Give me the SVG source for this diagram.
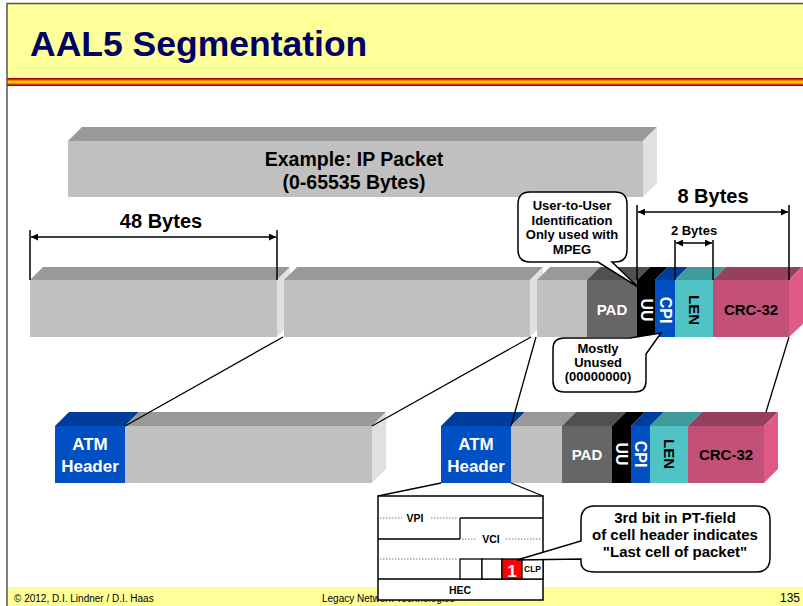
<svg xmlns="http://www.w3.org/2000/svg" width="803" height="606" viewBox="0 0 803 606">
<defs>
<style>
text{font-family:"Liberation Sans",Arial,sans-serif;font-weight:bold}
.c{text-anchor:middle}
.w{fill:#fff}
.k{fill:#000}
.fr{fill:#c0c0c0}
.tp{fill:#999}
.sd{fill:#e0e0e0}
.pad{fill:#666}
.padt{fill:#505050}
.blu{fill:#0050c4}
.blut{fill:#003c9a}
.len{fill:#50c4c4}
.lent{fill:#3e9c9c}
.crc{fill:#c25078}
.crct{fill:#94405e}
.crcs{fill:#e05a88}
.ln{stroke:#000;stroke-width:1.3;fill:none}
.dim{stroke:#000;stroke-width:1.5;fill:none}
.dot{stroke:#555;stroke-width:0.8;stroke-dasharray:1.5 1.5;fill:none}
.box{fill:#fff;stroke:#000;stroke-width:1.5}
.rot{text-anchor:middle;dominant-baseline:central}
.foot{font-weight:normal;font-size:10px;fill:#000}
</style>
<marker id="ae" viewBox="0 0 10 10" refX="10" refY="5" markerWidth="9" markerHeight="7" markerUnits="userSpaceOnUse" orient="auto"><path d="M0,0 L10,5 L0,10 Z" fill="#000"/></marker>
<marker id="as" viewBox="0 0 10 10" refX="0" refY="5" markerWidth="9" markerHeight="7" markerUnits="userSpaceOnUse" orient="auto"><path d="M10,0 L0,5 L10,10 Z" fill="#000"/></marker>
</defs>

<g id="frame">
<rect x="0" y="0" width="803" height="606" fill="#fff"/>
<rect x="7" y="4" width="796" height="74" fill="#ffff99"/>
<rect x="7" y="78" width="796" height="8" fill="#a00000"/>
<rect x="7" y="79.3" width="796" height="5.4" fill="#ff4400"/>
<rect x="7" y="80.6" width="796" height="2.8" fill="#ffcc00"/>
<rect x="7" y="587" width="796" height="19" fill="#ffff99"/>
<path d="M7,606 V3.5 H803" fill="none" stroke="#555" stroke-width="1.5"/>
<text x="30" y="56" style="font-size:35.5px" fill="#000066">AAL5 Segmentation</text>
<text class="foot" x="14" y="602">© 2012, D.I. Lindner / D.I. Haas</text>
<text class="foot" x="322" y="602">Legacy Network Technologies</text>
<text class="foot" x="800" y="602" text-anchor="end" style="font-size:12px">135</text>
</g>

<g id="ip-packet">
<polygon class="tp" points="68,141 82,127 657,127 643,141"/>
<rect class="fr" x="68" y="141" width="575" height="56"/>
<polygon class="sd" points="643,141 657,127 657,183 643,197"/>
<text class="c" x="354" y="166" style="font-size:19.5px">Example: IP Packet</text>
<text class="c" x="354" y="189" style="font-size:19.5px">(0-65535 Bytes)</text>
</g>

<g id="seg1">
<polygon class="tp" points="30,280 43,267 290,267 277,280"/>
<polygon class="sd" points="277,280 290,267 290,324 277,337"/>
<rect class="fr" x="30" y="280" width="247" height="57"/>
</g>
<g id="seg2">
<polygon class="tp" points="284,280 297,267 543,267 530,280"/>
<polygon class="sd" points="530,280 543,267 543,324 530,337"/>
<rect class="fr" x="284" y="280" width="246" height="57"/>
</g>
<g id="seg3">
<polygon class="tp" points="537,280 550,267 600,267 587,280"/>
<rect class="fr" x="537" y="280" width="50" height="57"/>
</g>
<g id="trailer">
<polygon class="padt" points="587,280 600,267 650,267 637,280"/>
<rect class="pad" x="587" y="280" width="50" height="57"/>
<text class="c w" x="612" y="315" style="font-size:15px">PAD</text>
<polygon fill="#000" points="637,280 650,267 668,267 655,280"/>
<rect fill="#000" x="637" y="280" width="18" height="57"/>
<text class="rot w" transform="translate(646,310) rotate(90)" style="font-size:16px">UU</text>
<polygon class="blut" points="655,280 668,267 688,267 675,280"/>
<rect class="blu" x="655" y="280" width="20" height="57"/>
<text class="rot w" transform="translate(665,310) rotate(90)" style="font-size:16px">CPI</text>
<polygon class="lent" points="675,280 688,267 726,267 713,280"/>
<rect class="len" x="675" y="280" width="38" height="57"/>
<text class="rot k" transform="translate(694,310) rotate(90)" style="font-size:15px">LEN</text>
<polygon class="crct" points="713,280 726,267 802,267 789,280"/>
<rect class="crc" x="713" y="280" width="76" height="57"/>
<polygon class="crcs" points="789,280 802,267 803,267 803,324 789,337"/>
<text class="c k" x="751" y="315" style="font-size:15px">CRC-32</text>
</g>

<g id="dimensions">
<path class="dim" d="M30,230 V280 M277,230 V280 M637,205 V280 M789,205 V280 M675,240 V280 M713,240 V280"/>
<line class="dim" x1="31" y1="237" x2="276" y2="237" marker-start="url(#as)" marker-end="url(#ae)"/>
<line class="dim" x1="638" y1="212" x2="788" y2="212" marker-start="url(#as)" marker-end="url(#ae)"/>
<line class="dim" x1="676" y1="243" x2="712" y2="243" marker-start="url(#as)" marker-end="url(#ae)"/>
<text class="c" x="161" y="228" style="font-size:20px">48 Bytes</text>
<text class="c" x="713" y="203" style="font-size:20px">8 Bytes</text>
<text class="c" x="694" y="235" style="font-size:13px">2 Bytes</text>
</g>

<g id="callout-uu">
<path class="box" d="M530,192 H615 Q627,192 627,204 V250 Q627,262 615,262 H612 L638,287 L598,262 H530 Q518,262 518,250 V204 Q518,192 530,192 Z"/>
<text class="c" x="572" y="210" style="font-size:13px">User-to-User</text>
<text class="c" x="572" y="225" style="font-size:13px">Identification</text>
<text class="c" x="572" y="239" style="font-size:13px">Only used with</text>
<text class="c" x="572" y="254" style="font-size:13px">MPEG</text>
</g>

<g id="callout-cpi">
<path class="box" d="M564,338 H630 L661,333 L646,354 V381 Q646,392 635,392 H564 Q553,392 553,381 V349 Q553,338 564,338 Z"/>
<text class="c" x="598" y="353" style="font-size:13px">Mostly</text>
<text class="c" x="598" y="367" style="font-size:13px">Unused</text>
<text class="c" x="598" y="381" style="font-size:13px">(00000000)</text>
</g>

<g id="cell1">
<polygon class="blut" points="55,426 69,412 139,412 125,426"/>
<rect class="blu" x="55" y="426" width="70" height="57"/>
<polygon class="tp" points="125,426 139,412 386,412 372,426"/>
<rect class="fr" x="125" y="426" width="247" height="57"/>
<polygon class="sd" points="372,426 386,412 386,469 372,483"/>
<text class="c w" x="90" y="450" style="font-size:17px">ATM</text>
<text class="c w" x="90" y="472" style="font-size:17px">Header</text>
</g>

<g id="cell2">
<polygon class="blut" points="441,426 455,412 525,412 511,426"/>
<rect class="blu" x="441" y="426" width="70" height="57"/>
<text class="c w" x="476" y="450" style="font-size:17px">ATM</text>
<text class="c w" x="476" y="472" style="font-size:17px">Header</text>
<polygon class="tp" points="511,426 525,412 576,412 562,426"/>
<rect class="fr" x="511" y="426" width="51" height="57"/>
<polygon class="padt" points="562,426 576,412 626,412 612,426"/>
<rect class="pad" x="562" y="426" width="50" height="57"/>
<text class="c w" x="587" y="460" style="font-size:15px">PAD</text>
<polygon fill="#000" points="612,426 626,412 645,412 631,426"/>
<rect fill="#000" x="612" y="426" width="19" height="57"/>
<text class="rot w" transform="translate(621,454) rotate(90)" style="font-size:16px">UU</text>
<polygon class="blut" points="631,426 645,412 664,412 650,426"/>
<rect class="blu" x="631" y="426" width="19" height="57"/>
<text class="rot w" transform="translate(640,454) rotate(90)" style="font-size:16px">CPI</text>
<polygon class="lent" points="650,426 664,412 702,412 688,426"/>
<rect class="len" x="650" y="426" width="38" height="57"/>
<text class="rot k" transform="translate(669,454) rotate(90)" style="font-size:15px">LEN</text>
<polygon class="crct" points="688,426 702,412 778,412 764,426"/>
<rect class="crc" x="688" y="426" width="76" height="57"/>
<polygon class="crcs" points="764,426 778,412 778,469 764,483"/>
<text class="c k" x="726" y="460" style="font-size:15px">CRC-32</text>
</g>

<g id="connectors">
<line class="ln" x1="283" y1="337" x2="125" y2="426"/>
<line class="ln" x1="531" y1="337" x2="372" y2="426"/>
<line class="ln" x1="536" y1="337" x2="511" y2="426"/>
<line class="ln" x1="789" y1="337" x2="766" y2="412"/>
<line class="ln" x1="441" y1="483" x2="378" y2="496"/>
<line class="ln" x1="511" y1="483" x2="543" y2="496"/>
</g>

<g id="header-detail">
<rect class="box" x="378" y="496" width="165" height="104"/>
<path class="dot" d="M380,518 H402 M431,518 H458 M462,539 H476 M506,539 H541 M380,559 H458"/>
<path class="ln" d="M460,518 H543 M460,518 V539 M378,539 H460 M378,579 H543"/>
<rect x="460" y="559" width="22" height="20" fill="#fff" stroke="#000" stroke-width="1.3"/>
<rect x="482" y="559" width="20" height="20" fill="#fff" stroke="#000" stroke-width="1.3"/>
<rect x="502" y="559" width="20" height="20" fill="#ff0000" stroke="#000" stroke-width="1.3"/>
<rect x="522" y="559" width="21" height="20" fill="#fff" stroke="#000" stroke-width="1.3"/>
<text class="c w" x="512" y="577" style="font-size:17px">1</text>
<text class="c" x="532.5" y="572" style="font-size:8.5px">CLP</text>
<text class="c" x="415" y="522" style="font-size:10.5px">VPI</text>
<text class="c" x="491" y="543" style="font-size:10.5px">VCI</text>
<text class="c" x="460" y="594" style="font-size:10.5px">HEC</text>
</g>

<g id="callout-pt">
<path class="box" d="M595,506 H756 Q770,506 770,520 V558 Q770,572 756,572 H595 Q581,572 581,562 V559 L517,560 L581,541 V520 Q581,506 595,506 Z"/>
<text class="c" x="675" y="523" style="font-size:15px">3rd bit in PT-field</text>
<text class="c" x="675" y="540" style="font-size:15px">of cell header indicates</text>
<text class="c" x="675" y="557" style="font-size:15px">"Last cell of packet"</text>
</g>
</svg>
